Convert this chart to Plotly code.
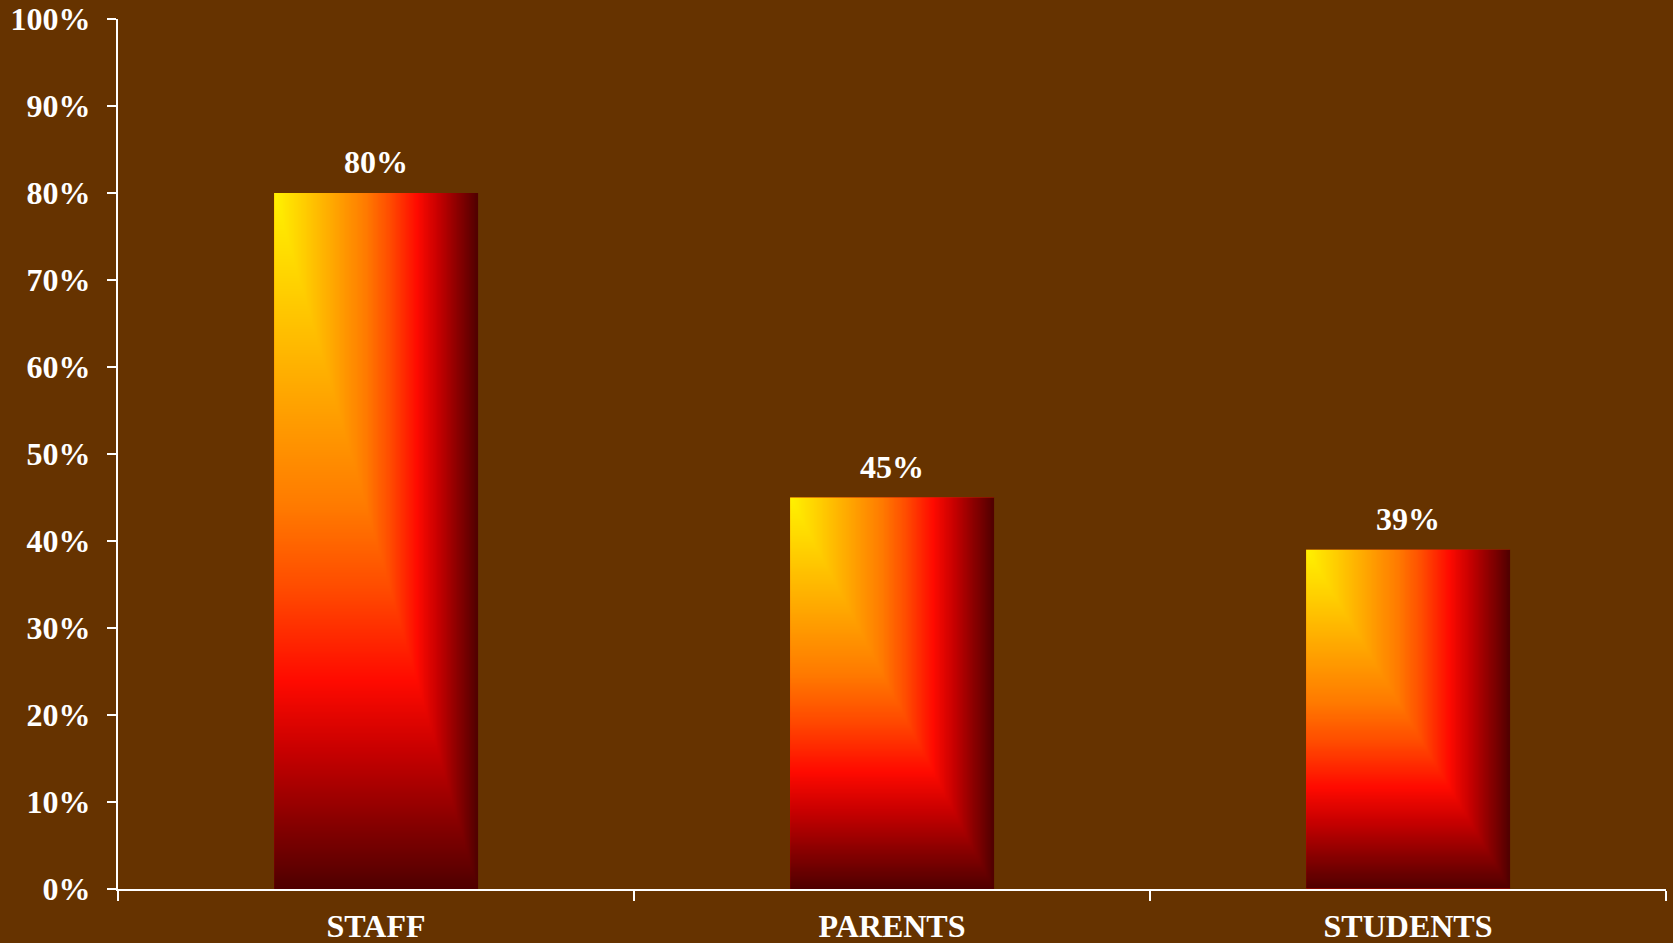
import numpy as np
import plotly.graph_objects as go

categories = ["STAFF", "PARENTS", "STUDENTS"]
values = [80, 45, 39]
value_labels = ["80%", "45%", "39%"]
y_tickvals = [0, 10, 20, 30, 40, 50, 60, 70, 80, 90, 100]
y_ticktext = ["0%", "10%", "20%", "30%", "40%", "50%", "60%", "70%", "80%", "90%", "100%"]

BG = "#663300"
FONT = "Liberation Serif"
FS = 32
BAR_W = 0.395

gradient = [
    [0.00, "#FFF200"],
    [0.12, "#FFD400"],
    [0.30, "#FFA300"],
    [0.45, "#FF7A00"],
    [0.57, "#FF4A00"],
    [0.70, "#FF0A00"],
    [0.80, "#C80000"],
    [0.90, "#8A0000"],
    [1.00, "#4E0000"],
]

fig = go.Figure()

fig.add_trace(go.Bar(
    x=categories, y=values, width=BAR_W,
    marker=dict(color="#FF2000", line=dict(width=0)),
    hoverinfo="skip", showlegend=False,
))

# corner gradient fill over each bar (style only; extents come from the data)
nx, ny = 80, 160
for i, v in enumerate(values):
    xe = np.linspace(i - BAR_W / 2, i + BAR_W / 2, nx + 1)
    ye = np.linspace(0, v, ny + 1)
    u = (np.arange(nx) + 0.5) / nx
    d = 1 - (np.arange(ny) + 0.5) / ny
    z = np.maximum(u[None, :], d[:, None])
    fig.add_trace(go.Heatmap(
        x=xe, y=ye, z=z, xaxis="x2", yaxis="y",
        colorscale=gradient, zmin=0, zmax=1, showscale=False,
        hoverinfo="skip", zsmooth="best",
    ))

for c, v, t in zip(categories, values, value_labels):
    fig.add_annotation(
        x=c, y=v, text=t, showarrow=False, yanchor="bottom", yshift=11,
        font=dict(family=FONT, size=FS, color="white", weight="bold"),
    )

fig.update_layout(
    width=1673, height=943,
    paper_bgcolor=BG, plot_bgcolor=BG,
    margin=dict(l=118, r=7, t=19, b=54),
    showlegend=False,
    font=dict(family=FONT, size=FS, color="white", weight="bold"),
    xaxis=dict(
        type="category", range=[-0.5, 2.5], tickson="boundaries",
        showline=True, linecolor="white", linewidth=2,
        ticks="outside", ticklen=10, tickwidth=2, tickcolor="white",
        showgrid=False, zeroline=False, automargin=False,
        tickfont=dict(family=FONT, size=FS, color="white", weight="bold"),
        ticklabelstandoff=8,
    ),
    xaxis2=dict(overlaying="x", range=[-0.5, 2.5], visible=False, showgrid=False, zeroline=False),
    yaxis=dict(
        range=[0, 100], tickvals=y_tickvals, ticktext=y_ticktext,
        showline=True, linecolor="white", linewidth=2,
        ticks="outside", ticklen=9, tickwidth=2, tickcolor="white",
        showgrid=False, zeroline=False, automargin=False,
        tickfont=dict(family=FONT, size=FS, color="white", weight="bold"),
        ticklabelstandoff=10,
    ),
)

fig.write_html(
    "out.html",
    config={"displayModeBar": False},
    post_script="document.body.style.margin='0';document.body.style.padding='0';document.body.style.overflow='hidden';",
)
